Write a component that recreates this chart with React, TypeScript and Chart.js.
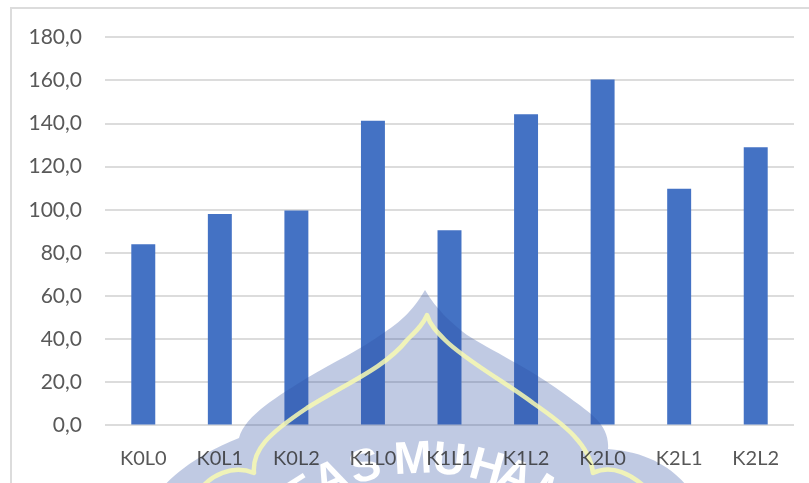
import { useEffect, useRef } from "react";
import { Chart, registerables } from "chart.js";

Chart.register(...registerables);

const categories = ["K0L0", "K0L1", "K0L2", "K1L0", "K1L1", "K1L2", "K2L0", "K2L1", "K2L2"];
const values = [84.0, 98.0, 99.7, 141.3, 90.5, 144.3, 160.4, 109.7, 129.0];
const sealLetters = ["I", "T", "A", "S", "M", "U", "H", "A", "M"];
const sealAngles = [-40, -32.5, -24, -15, -3, 6, 15.5, 23, 33];

// Outer frame of the chart area.
const framePlugin = {
  id: "frame",
  beforeDraw(chart: Chart) {
    const { ctx, width, height } = chart;
    ctx.save();
    ctx.strokeStyle = "#dcdcdc";
    ctx.lineWidth = 2;
    ctx.beginPath();
    ctx.moveTo(11, height);
    ctx.lineTo(11, 8);
    ctx.lineTo(width, 8);
    ctx.stroke();
    ctx.restore();
  },
};

// Translucent university seal, painted over the bars and under the category labels.
const sealPlugin = {
  id: "seal",
  afterDatasetsDraw(chart: Chart) {
    const layer = document.createElement("canvas");
    layer.width = chart.width;
    layer.height = chart.height;
    const ctx = layer.getContext("2d")!;

    ctx.fillStyle = "rgba(45,78,161,0.3)";
    ctx.beginPath();
    ctx.moveTo(425, 290);
    ctx.bezierCurveTo(412, 312, 400, 322, 385, 332);
    ctx.bezierCurveTo(360, 350, 332, 363, 307, 378);
    ctx.bezierCurveTo(280, 395, 245, 415, 239, 438);
    ctx.bezierCurveTo(215, 448, 185, 462, 160, 490);
    ctx.lineTo(690, 490);
    ctx.bezierCurveTo(675, 470, 650, 452, 608, 449);
    ctx.bezierCurveTo(610, 425, 590, 413, 570, 398);
    ctx.bezierCurveTo(530, 368, 490, 350, 467, 335);
    ctx.bezierCurveTo(450, 322, 437, 310, 425, 290);
    ctx.closePath();
    ctx.fill();

    // Letters of the seal are left uncoloured.
    ctx.save();
    ctx.globalCompositeOperation = "destination-out";
    ctx.fillStyle = "rgba(0,0,0,1)";
    ctx.font = "700 46px 'Liberation Sans'";
    ctx.textAlign = "center";
    ctx.textBaseline = "alphabetic";
    sealLetters.forEach((letter, i) => {
      const a = (sealAngles[i] * Math.PI) / 180;
      ctx.save();
      ctx.translate(425 + 217 * Math.sin(a), 690 - 217 * Math.cos(a));
      ctx.rotate(a);
      ctx.fillText(letter, 0, 0);
      ctx.restore();
    });
    ctx.restore();

    ctx.strokeStyle = "rgba(248,250,178,0.85)";
    ctx.lineWidth = 4.5;
    ctx.lineJoin = "round";
    ctx.beginPath();
    ctx.moveTo(200, 490);
    ctx.bezierCurveTo(210, 476, 232, 464, 254, 473);
    ctx.bezierCurveTo(252, 450, 268, 434, 307, 408);
    ctx.bezierCurveTo(345, 384, 385, 368, 407, 340);
    ctx.bezierCurveTo(415, 332, 423, 325, 427, 315);
    ctx.bezierCurveTo(430, 325, 437, 332, 445, 340);
    ctx.bezierCurveTo(465, 360, 505, 382, 533, 403);
    ctx.bezierCurveTo(565, 425, 590, 445, 593, 473);
    ctx.bezierCurveTo(612, 464, 632, 474, 648, 490);
    ctx.stroke();

    chart.ctx.drawImage(layer, 0, 0);
  },
};

export default function App() {
  const ref = useRef<HTMLCanvasElement | null>(null);

  useEffect(() => {
    const chart = new Chart(ref.current!, {
      type: "bar",
      data: {
        labels: categories,
        datasets: [
          {
            data: values,
            backgroundColor: "#4472c4",
            barPercentage: 0.313,
            categoryPercentage: 1,
          },
        ],
      },
      plugins: [framePlugin, sealPlugin],
      options: {
        animation: false,
        responsive: false,
        layout: { padding: { top: 37.3, right: 15, bottom: 0, left: 0 } },
        plugins: { legend: { display: false }, tooltip: { enabled: false } },
        scales: {
          x: {
            grid: { display: false },
            border: { display: false },
            ticks: {
              z: 1,
              color: "rgba(40,40,40,0.78)",
              font: { family: "Lato", size: 20 },
              padding: 13,
              maxRotation: 0,
              autoSkip: false,
            },
            afterFit(scale: any) {
              scale.height = 57.6;
            },
          },
          y: {
            min: 0,
            max: 180,
            grid: { color: "#dcdcdc", lineWidth: 2, drawTicks: false },
            border: { display: false },
            ticks: {
              stepSize: 20,
              color: "#595959",
              font: { family: "Lato", size: 21 },
              padding: 23,
              callback: (v: any) => Number(v).toFixed(1).replace(".", ","),
            },
            afterFit(scale: any) {
              scale.width = 105;
            },
          },
        },
      },
    });
    return () => chart.destroy();
  }, []);

  return (
    <div style={{ position: "fixed", left: 0, top: 0, width: 809, height: 483, background: "#fff" }}>
      <canvas ref={ref} width={809} height={483} style={{ display: "block" }} />
    </div>
  );
}
